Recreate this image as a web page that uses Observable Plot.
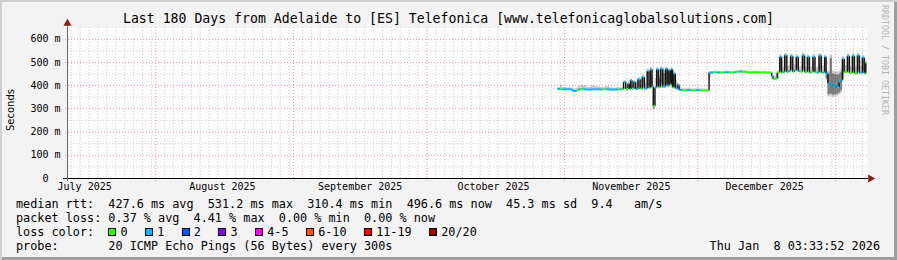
<!DOCTYPE html>
<html>
<head>
<meta charset="utf-8">
<script src="https://cdn.jsdelivr.net/npm/d3@7"></script>
<script src="https://cdn.jsdelivr.net/npm/@observablehq/plot@0.6"></script>
<style>
html, body { margin: 0; padding: 0; background: #ffffff; }
#chart {
  position: relative; width: 897px; height: 260px; overflow: hidden;
  background: #f3f3f3;
  box-shadow: inset 2px 2px 0 #cfcfcf, inset -3px -3px 0 #9e9e9e;
  font-family: "DejaVu Sans Mono", monospace; color: #000;
}
#title { position: absolute; left: 0; top: 11px; width: 897px; text-align: center;
  font-size: 13.2px; line-height: 16px; white-space: pre; }
#plot { position: absolute; left: 0; top: 20px; }
#plot svg { overflow: visible; }
.leg { position: absolute; left: 16px; font-size: 11.8px; line-height: 14px; white-space: pre; }
#yl { position: absolute; left: 10px; top: 110px; transform: translate(-50%, -50%) rotate(-90deg);
  font-family: "DejaVu Sans", sans-serif; font-size: 10px; white-space: pre; }
#credit { position: absolute; left: 880px; top: 5px; writing-mode: vertical-rl;
  font-size: 8.3px; color: #b4b4b4; white-space: pre; }
#items { position: absolute; left: 108.3px; top: 225px; font-size: 11.8px; line-height: 14px; white-space: pre; display: flex; align-items: center; height: 14px; }
.it { display: flex; align-items: center; margin-right: 17.4px; }
.box { display: inline-block; width: 8px; height: 8px; box-sizing: border-box; border: 1px solid #000; margin-right: 4.2px; }
</style>
</head>
<body>
<div id="chart">
  <div id="title"></div>
  <div id="plot"></div>
  <div id="yl"></div>
  <div id="credit"></div>
  <div class="leg" id="l1" style="top:197px"></div>
  <div class="leg" id="l2" style="top:211px"></div>
  <div class="leg" id="l3" style="top:225px"></div>
  <div id="items"></div>
  <div class="leg" id="l4" style="top:239px"></div>
  <div class="leg" id="stamp" style="top:239px; left:auto; right:17px;"></div>
</div>
<script>
// ---------- texts ----------
const titleText = "Last 180 Days from Adelaide to [ES] Telefonica [www.telefonicaglobalsolutions.com]";
const yLabel = "Seconds";
const creditText = "RRDTOOL / TOBI OETIKER";
const rttStats = ["427.6 ms avg", "531.2 ms max", "310.4 ms min", "496.6 ms now", "45.3 ms sd", "9.4   am/s"];
const lossStats = ["0.37 % avg", "4.41 % max", "0.00 % min", "0.00 % now"];
const lossLabels = ["0", "1", "2", "3", "4-5", "6-10", "11-19", "20/20"];
const lossColors = ["#26ff00", "#00b8ff", "#0059ff", "#7e00ff", "#ff00ff", "#ff5500", "#ff0000", "#a10000"];
const probeText = "20 ICMP Echo Pings (56 Bytes) every 300s";
const stampText = "Thu Jan  8 03:33:52 2026";

// ---------- axes ----------
const rangeStart = "2025-07-12 03:34";
const rangeEnd = "2026-01-08 03:34";
const yTicks = [0, 100, 200, 300, 400, 500, 600];
const yMinorTicks = [50, 150, 250, 350, 450, 550];
const monthLabelTicks = ["2025-07-16 00:00", "2025-08-16 00:00", "2025-09-16 00:00", "2025-10-16 00:00", "2025-11-16 00:00", "2025-12-16 00:00"];

// ---------- data (local time, median rtt in ms, smoke range, loss index) ----------
const times = [
  "2025-10-30 10:00","2025-10-31 00:00","2025-10-31 12:00","2025-11-01 12:00","2025-11-02 12:00","2025-11-02 20:00",
  "2025-11-03 18:00","2025-11-04 04:00","2025-11-04 16:00","2025-11-05 06:00","2025-11-06 00:00","2025-11-07 00:00",
  "2025-11-08 00:00","2025-11-09 00:00","2025-11-09 12:00","2025-11-10 06:00","2025-11-11 00:00","2025-11-12 00:00",
  "2025-11-13 00:00","2025-11-13 12:00","2025-11-14 00:00",
  "2025-11-14 06:00","2025-11-14 18:00","2025-11-15 06:00","2025-11-15 13:00","2025-11-15 20:00","2025-11-16 04:00",
  "2025-11-16 14:00","2025-11-17 00:00","2025-11-17 12:00","2025-11-18 00:00","2025-11-18 11:00","2025-11-18 23:00",
  "2025-11-19 14:00","2025-11-20 00:00","2025-11-20 08:00","2025-11-20 16:00","2025-11-20 23:00","2025-11-21 08:00",
  "2025-11-21 17:00","2025-11-22 03:00","2025-11-22 14:00","2025-11-23 02:00","2025-11-23 17:00","2025-11-24 02:00",
  "2025-11-24 11:00","2025-11-24 18:00","2025-11-25 00:00","2025-11-25 07:00","2025-11-25 14:00","2025-11-25 22:00",
  "2025-11-26 09:00",
  "2025-11-26 18:00","2025-11-27 12:00","2025-11-28 12:00","2025-11-29 12:00","2025-11-30 12:00","2025-12-01 12:00",
  "2025-12-02 12:00","2025-12-03 06:00",
  "2025-12-03 12:00","2025-12-04 00:00","2025-12-04 12:00","2025-12-05 06:00","2025-12-06 00:00","2025-12-07 00:00",
  "2025-12-08 00:00","2025-12-09 00:00","2025-12-09 12:00","2025-12-10 06:00","2025-12-11 00:00","2025-12-11 18:00",
  "2025-12-12 12:00","2025-12-13 12:00","2025-12-14 12:00","2025-12-15 12:00","2025-12-16 12:00",
  "2025-12-17 14:00","2025-12-17 22:00","2025-12-18 12:00",
  "2025-12-18 20:00","2025-12-19 10:00","2025-12-19 20:00","2025-12-20 04:00","2025-12-20 12:00","2025-12-21 00:00",
  "2025-12-21 08:00","2025-12-21 20:00","2025-12-22 08:00","2025-12-22 16:00","2025-12-23 03:00","2025-12-23 14:00",
  "2025-12-24 00:00","2025-12-24 12:00","2025-12-25 00:00","2025-12-25 15:00","2025-12-26 02:00","2025-12-26 10:00",
  "2025-12-26 21:00","2025-12-27 08:00","2025-12-27 18:00","2025-12-28 06:00","2025-12-28 18:00","2025-12-29 02:00",
  "2025-12-29 12:00","2025-12-29 20:00",
  "2025-12-30 06:00","2025-12-30 18:00","2025-12-31 06:00","2025-12-31 18:00","2026-01-01 06:00","2026-01-01 18:00",
  "2026-01-02 04:00",
  "2026-01-02 12:00","2026-01-02 22:00","2026-01-03 15:00","2026-01-04 02:00","2026-01-04 18:00","2026-01-05 05:00",
  "2026-01-05 21:00","2026-01-06 08:00","2026-01-07 00:00","2026-01-07 10:00","2026-01-07 18:00"
];
const dataEnd = "2026-01-08 00:00";
const medianRtt = [
  385,385,384,384,382,377, 381,384,385,384,383,384, 384,383,384,384,383,383, 384,384,384,
  416,385,409,385,423,386, 416,385,427,386,437,387, 463,390,470,395,312,392, 470,393,473,396,473,400,
  466,405,470,392,452,388, 404,
  381,379,380,379,380,379, 378,379,
  455,456,457,456,456,457, 456,457,459,460,459,457, 456,457,456,456,455,
  440,428,430,
  456,524,456,458,531,458, 462,527,460,466,524,462, 460,530,458,524,456,458, 524,457,456,529,455,457,
  524,452,
  409,404,397,401,394,416, 423,
  516,458,528,455,528,452, 530,455,521,452,497
];
const smokeLo = [
  382,382,381,381,379,374, 378,381,382,381,380,381, 381,380,381,381,380,380, 381,381,381,
  383,382,383,382,384,382, 384,382,385,382,386,383, 388,385,390,388,292,386, 392,386,395,388,400,390,
  395,392,398,386,388,384, 382,
  378,376,377,376,377,376, 375,376,
  430,453,454,453,453,454, 453,454,455,456,456,454, 453,454,453,453,452,
  430,425,427,
  428,455,452,454,458,454, 455,460,455,457,462,456, 455,460,454,458,452,453, 458,452,452,458,450,452,
  455,420,
  352,355,350,352,355,360, 370,
  420,454,456,450,455,448, 458,450,455,448,455
];
const smokeHi = [
  390,401,391,390,389,386, 390,397,401,399,392,398, 395,391,392,396,390,389, 391,390,392,
  420,392,414,395,428,398, 420,395,433,400,445,410, 472,420,478,440,395,430, 478,440,480,465,480,470,
  475,470,478,440,460,420, 410,
  390,386,387,385,386,385, 384,386,
  460,461,462,461,460,462, 461,461,463,465,464,462, 461,461,460,461,460,
  457,440,445,
  462,532,470,480,538,480, 485,535,478,490,532,480, 482,540,478,532,476,480, 534,478,480,538,478,485,
  532,470,
  462,530,462,460,458,462, 470,
  525,485,536,482,538,480, 540,482,530,478,510
];
const lossIndex = [
  1,0,1,1,1,1, 0,1,0,1,1,1, 1,1,0,1,1,1, 0,1,0,
  1,0,1,1,1,0, 1,1,1,0,1,1, 1,0,1,1,0,1, 1,0,1,1,1,1,
  1,0,1,0,1,1, 1,
  1,0,1,0,1,0, 0,0,
  1,1,0,1,0,1, 0,1,0,1,0,0, 0,0,0,0,0,
  1,0,0,
  0,1,0,1,1,0, 1,1,0,1,1,1, 0,1,0,1,1,0, 1,0,1,1,0,1,
  1,1,
  1,1,1,1,1,1, 1,
  1,0,1,0,1,0, 1,1,1,0,0
];

// ---------- build ----------
const parse = d3.utcParse("%Y-%m-%d %H:%M");
const start = parse(rangeStart), end = parse(rangeEnd);
const rows = times.map((s, i) => ({t: parse(s), med: medianRtt[i], lo: smokeLo[i], hi: smokeHi[i], loss: lossIndex[i]}));
rows.forEach((r, i) => {
  const n = rows[i + 1];
  r.tNext = n ? n.t : parse(dataEnd);
  r.medNext = n ? n.med : r.med;
  r.color = lossColors[r.loss];
});
// wide smoke = many scattered pings: drawn darker
const denseRows = rows.filter(r => r.hi - r.lo > 45);
const monthGrid = d3.utcMonth.range(start, end);
const dayGrid = d3.utcDay.every(2).range(start, end).filter(d => d.getUTCDate() !== 1);
const monthTicks = monthLabelTicks.map(parse);

const gridGray = "#d2d2d2", gridRed = "#ee9a9a";
const chart = Plot.plot({
  width: 897, height: 176,
  marginLeft: 67, marginRight: 30, marginTop: 7, marginBottom: 18,
  style: {background: "transparent", fontFamily: "DejaVu Sans Mono, monospace", fontSize: "10px", color: "#000", overflow: "visible"},
  color: {type: "identity"},
  x: {type: "utc", domain: [start, end], ticks: monthTicks, tickFormat: d3.utcFormat("%B %Y"), tickSize: 0, tickPadding: 4, label: null},
  y: {domain: [0, 650], ticks: yTicks, tickFormat: d => d === 0 ? "0\u00a0\u00a0" : d + " m", tickSize: 0, tickPadding: 7, label: null},
  marks: [
    Plot.frame({fill: "#fcfcfc", stroke: "none"}),
    Plot.ruleY(yMinorTicks, {stroke: gridGray, strokeDasharray: "1,2"}),
    Plot.ruleX(dayGrid, {stroke: gridGray, strokeDasharray: "1,2"}),
    Plot.ruleY(yTicks.filter(d => d > 0), {stroke: gridRed, strokeDasharray: "1,2", insetLeft: -2}),
    Plot.ruleX(monthGrid, {stroke: gridRed, strokeDasharray: "1,2", insetBottom: -3}),
    Plot.rect(rows, {x1: "t", x2: "tNext", y1: "lo", y2: "hi", fill: "#6e6e6e", fillOpacity: 0.35}),
    Plot.rect(denseRows, {x1: "t", x2: "tNext", y1: "lo", y2: "hi", fill: "#1e1e1e", fillOpacity: 0.45, insetTop: 3, insetBottom: 2}),
    Plot.link(rows.slice(0, -1), {x1: "tNext", x2: "tNext", y1: "med", y2: "medNext", stroke: "#151515", strokeWidth: 1.4}),
    Plot.link(rows, {x1: "t", x2: "tNext", y1: "med", y2: "med", stroke: "color", strokeWidth: 2}),
    Plot.ruleY([0], {stroke: "#000", insetLeft: -4, insetRight: -2}),
    Plot.ruleX([start], {stroke: "#666", insetTop: -4, insetBottom: -3}),
    Plot.dot([0], {frameAnchor: "top-left", symbol: "triangle", r: 3, fill: "#8b1a1a", stroke: "none", dy: -4}),
    Plot.dot([0], {frameAnchor: "bottom-right", symbol: "triangle", r: 3, fill: "#8b1a1a", stroke: "none", rotate: 90, dx: 3})
  ]
});
document.getElementById("plot").appendChild(chart);

document.getElementById("title").textContent = titleText;
document.getElementById("yl").textContent = yLabel;
document.getElementById("credit").textContent = creditText;
document.getElementById("l1").textContent = "median rtt:  " + rttStats.join("  ");
document.getElementById("l2").textContent = "packet loss: " + lossStats.join("  ");
document.getElementById("l3").textContent = "loss color:";
document.getElementById("l4").textContent = "probe:       " + probeText;
document.getElementById("stamp").textContent = stampText;
const items = document.getElementById("items");
lossLabels.forEach((lab, i) => {
  const it = document.createElement("span"); it.className = "it";
  const b = document.createElement("span"); b.className = "box"; b.style.background = lossColors[i];
  const t = document.createElement("span"); t.textContent = lab;
  it.appendChild(b); it.appendChild(t); items.appendChild(it);
});
</script>
</body>
</html>
